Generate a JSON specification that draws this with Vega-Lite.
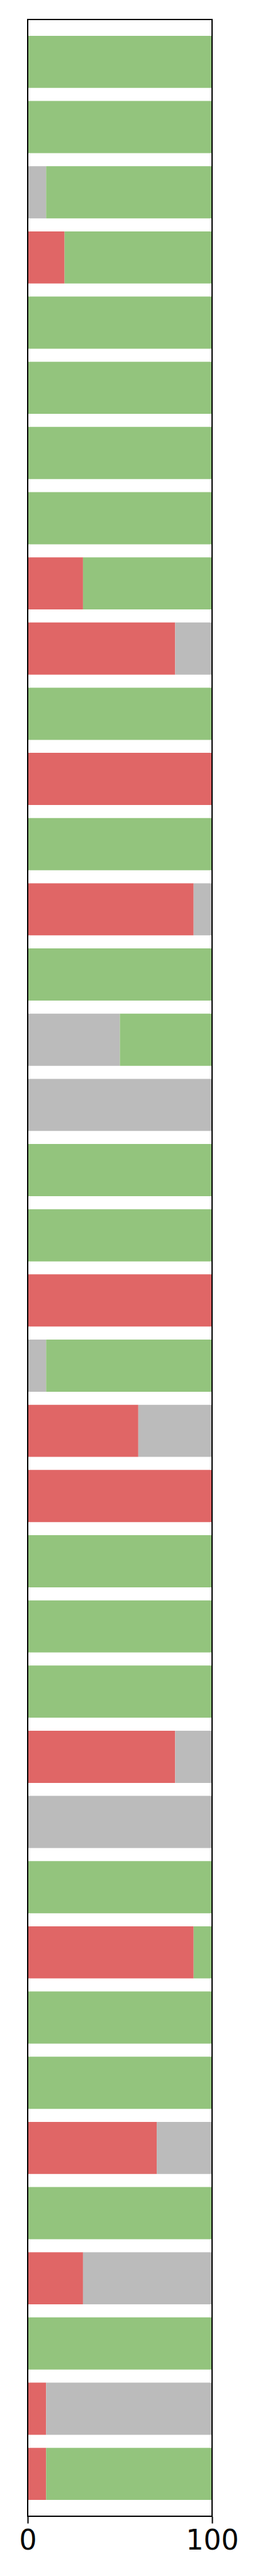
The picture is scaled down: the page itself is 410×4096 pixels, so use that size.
{
  "$schema": "https://vega.github.io/schema/vega-lite/v6.json",
  "width": 293,
  "height": 3970,
  "autosize": {"type": "none"},
  "padding": {"left": 44, "top": 31, "right": 73, "bottom": 95},
  "background": "white",
  "config": {
    "view": {"stroke": "black", "strokeWidth": 2, "fill": null},
    "style": {"cell": {"strokeForeground": true}},
    "font": "DejaVu Sans"
  },
  "data": {
    "values": [
      {"row": 1, "cat": "pos", "v": 100},
      {"row": 2, "cat": "pos", "v": 100},
      {"row": 3, "cat": "neu", "v": 10}, {"row": 3, "cat": "pos", "v": 90},
      {"row": 4, "cat": "neg", "v": 20}, {"row": 4, "cat": "pos", "v": 80},
      {"row": 5, "cat": "pos", "v": 100},
      {"row": 6, "cat": "pos", "v": 100},
      {"row": 7, "cat": "pos", "v": 100},
      {"row": 8, "cat": "pos", "v": 100},
      {"row": 9, "cat": "neg", "v": 30}, {"row": 9, "cat": "pos", "v": 70},
      {"row": 10, "cat": "neg", "v": 80}, {"row": 10, "cat": "neu", "v": 20},
      {"row": 11, "cat": "pos", "v": 100},
      {"row": 12, "cat": "neg", "v": 100},
      {"row": 13, "cat": "pos", "v": 100},
      {"row": 14, "cat": "neg", "v": 90}, {"row": 14, "cat": "neu", "v": 10},
      {"row": 15, "cat": "pos", "v": 100},
      {"row": 16, "cat": "neu", "v": 50}, {"row": 16, "cat": "pos", "v": 50},
      {"row": 17, "cat": "neu", "v": 100},
      {"row": 18, "cat": "pos", "v": 100},
      {"row": 19, "cat": "pos", "v": 100},
      {"row": 20, "cat": "neg", "v": 100},
      {"row": 21, "cat": "neu", "v": 10}, {"row": 21, "cat": "pos", "v": 90},
      {"row": 22, "cat": "neg", "v": 60}, {"row": 22, "cat": "neu", "v": 40},
      {"row": 23, "cat": "neg", "v": 100},
      {"row": 24, "cat": "pos", "v": 100},
      {"row": 25, "cat": "pos", "v": 100},
      {"row": 26, "cat": "pos", "v": 100},
      {"row": 27, "cat": "neg", "v": 80}, {"row": 27, "cat": "neu", "v": 20},
      {"row": 28, "cat": "neu", "v": 100},
      {"row": 29, "cat": "pos", "v": 100},
      {"row": 30, "cat": "neg", "v": 90}, {"row": 30, "cat": "pos", "v": 10},
      {"row": 31, "cat": "pos", "v": 100},
      {"row": 32, "cat": "pos", "v": 100},
      {"row": 33, "cat": "neg", "v": 70}, {"row": 33, "cat": "neu", "v": 30},
      {"row": 34, "cat": "pos", "v": 100},
      {"row": 35, "cat": "neg", "v": 30}, {"row": 35, "cat": "neu", "v": 70},
      {"row": 36, "cat": "pos", "v": 100},
      {"row": 37, "cat": "neg", "v": 10}, {"row": 37, "cat": "neu", "v": 90},
      {"row": 38, "cat": "neg", "v": 10}, {"row": 38, "cat": "pos", "v": 90}
    ]
  },
  "mark": {"type": "bar", "cornerRadius": 0},
  "encoding": {
    "y": {
      "field": "row",
      "type": "ordinal",
      "sort": "ascending",
      "scale": {"paddingInner": 0.2, "paddingOuter": 0.25},
      "axis": null
    },
    "x": {
      "field": "v",
      "type": "quantitative",
      "stack": "zero",
      "scale": {"domain": [0, 100], "nice": false, "zero": true},
      "axis": {
        "title": null,
        "values": [0, 100],
        "grid": false,
        "domain": false,
        "ticks": true,
        "tickSize": 11,
        "tickWidth": 2,
        "tickColor": "black",
        "labelFont": "DejaVu Sans",
        "labelFontSize": 44,
        "labelColor": "black",
        "labelPadding": 6,
        "labelFlush": false,
        "labelOverlap": false,
        "format": "d"
      }
    },
    "color": {
      "field": "cat",
      "type": "nominal",
      "sort": ["neg", "neu", "pos"],
      "scale": {"domain": ["neg", "neu", "pos"], "range": ["#e06666", "#bbbbbb", "#93c47d"]},
      "legend": null
    },
    "order": {"field": "cat", "sort": "ascending"}
  }
}
